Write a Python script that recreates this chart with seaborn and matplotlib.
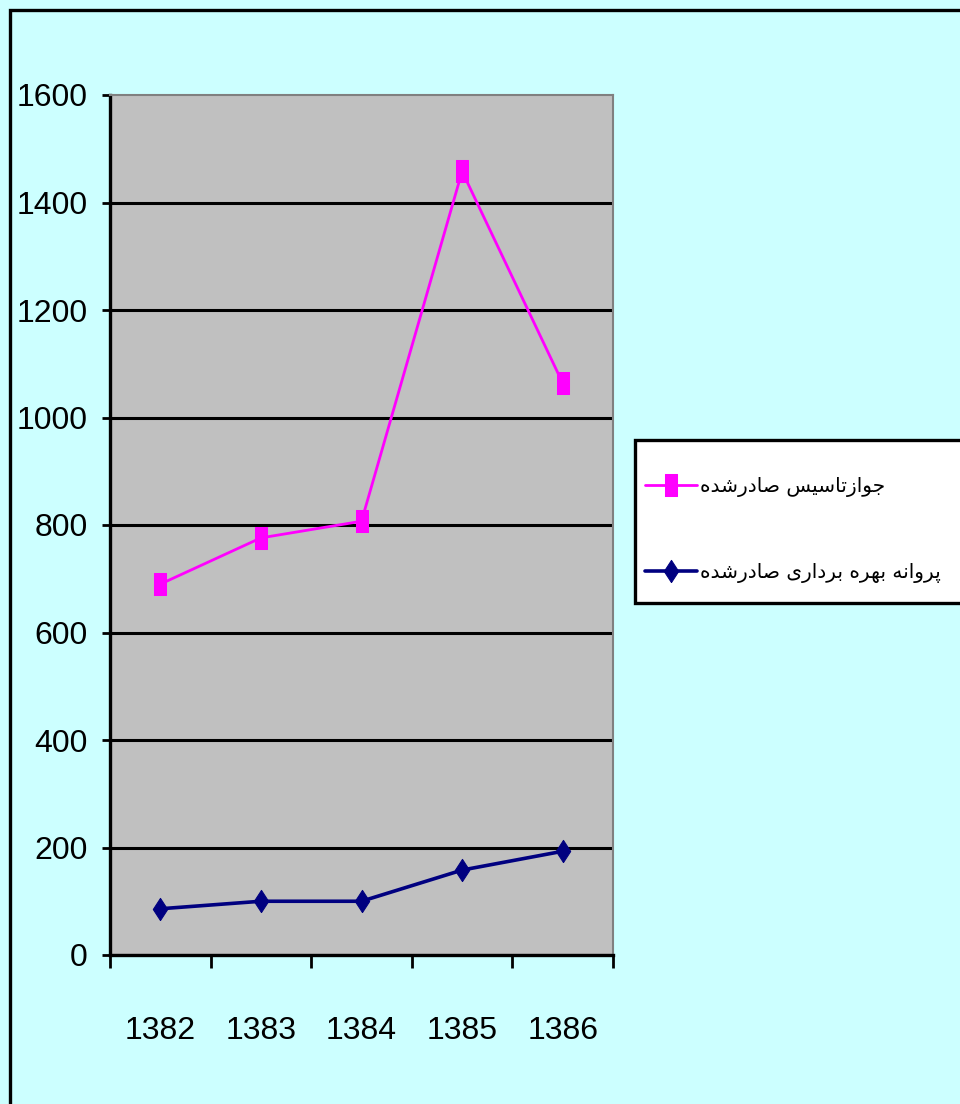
import numpy as np
import pandas as pd
import matplotlib
matplotlib.use('Agg')
import matplotlib.pyplot as plt
import matplotlib.patches as mpatches
import seaborn as sns

# ------------------------------------------------------------------
# Data
# ------------------------------------------------------------------
years = ['1382', '1383', '1384', '1385', '1386']
licenses_issued = [690, 776, 807, 1458, 1064]   # pink series
permits_issued = [86, 100, 100, 158, 193]       # navy series

label_licenses = 'جوازتاسیس صادرشده'
label_permits = 'پروانه بهره برداری صادرشده'

y_ticks = [0, 200, 400, 600, 800, 1000, 1200, 1400, 1600]

# ------------------------------------------------------------------
# Arabic shaping (matplotlib does not join letters on its own)
# ------------------------------------------------------------------
FORMS = {
    'ا': ('\uFE8D', '\uFE8E'),
    'د': ('\uFEA9', '\uFEAA'),
    'ر': ('\uFEAD', '\uFEAE'),
    'ز': ('\uFEAF', '\uFEB0'),
    'و': ('\uFEED', '\uFEEE'),
    'ب': ('\uFE8F', '\uFE90', '\uFE91', '\uFE92'),
    'پ': ('\uFB56', '\uFB57', '\uFB58', '\uFB59'),
    'ت': ('\uFE95', '\uFE96', '\uFE97', '\uFE98'),
    'ج': ('\uFE9D', '\uFE9E', '\uFE9F', '\uFEA0'),
    'س': ('\uFEB1', '\uFEB2', '\uFEB3', '\uFEB4'),
    'ش': ('\uFEB5', '\uFEB6', '\uFEB7', '\uFEB8'),
    'ص': ('\uFEB9', '\uFEBA', '\uFEBB', '\uFEBC'),
    'ن': ('\uFEE5', '\uFEE6', '\uFEE7', '\uFEE8'),
    'ه': ('\uFEE9', '\uFEEA', '\uFEEB', '\uFEEC'),
    'ی': ('\uFBFC', '\uFBFD', '\uFBFE', '\uFBFF'),
}


def shape(text):
    out = []
    for i, ch in enumerate(text):
        if ch not in FORMS:
            out.append(ch)
            continue
        f = FORMS[ch]
        prev = text[i - 1] if i > 0 else ''
        nxt = text[i + 1] if i + 1 < len(text) else ''
        join_prev = prev in FORMS and len(FORMS[prev]) == 4
        join_next = nxt in FORMS and len(f) == 4
        if join_prev and join_next:
            out.append(f[3])
        elif join_prev:
            out.append(f[1])
        elif join_next:
            out.append(f[2])
        else:
            out.append(f[0])
    return ''.join(out)[::-1]


df = pd.DataFrame({
    'year': years * 2,
    'pos': list(range(len(years))) * 2,
    'value': licenses_issued + permits_issued,
    'series': [label_licenses] * len(years) + [label_permits] * len(years),
})

# ------------------------------------------------------------------
# Plot
# ------------------------------------------------------------------
sns.set_style('white')
plt.rcParams['text.color'] = 'black'
plt.rcParams['xtick.color'] = 'black'
plt.rcParams['ytick.color'] = 'black'
num_font = ['Liberation Sans', 'DejaVu Sans']

fig = plt.figure(figsize=(9.6, 11.04), dpi=100, facecolor='#CCFFFF')
ax = fig.add_axes([110 / 960, 149 / 1104, 503 / 960, 860 / 1104])
ax.set_facecolor('#C0C0C0')

rect_marker = [(-0.55, -1), (0.55, -1), (0.55, 1), (-0.55, 1), (-0.55, -1)]
diamond_marker = [(0, -1), (0.65, 0), (0, 1), (-0.65, 0), (0, -1)]

sns.lineplot(data=df[df['series'] == label_licenses], x='pos', y='value',
             color='#FF00FF', linewidth=2, marker=rect_marker, markersize=16,
             markeredgecolor='#FF00FF', ax=ax, label=shape(label_licenses))
sns.lineplot(data=df[df['series'] == label_permits], x='pos', y='value',
             color='#000080', linewidth=2.6, marker=diamond_marker, markersize=16,
             markeredgecolor='#000080', ax=ax, label=shape(label_permits))

# Axes and ticks
ax.set_xlim(-0.5, len(years) - 0.5)
ax.set_ylim(0, 1600)
ax.set_yticks(y_ticks)
ax.set_yticklabels([str(v) for v in y_ticks], fontsize=23, family=num_font,
                   color='black')
ax.set_xticks(np.arange(len(years) + 1) - 0.5)
ax.set_xticklabels([])
ax.set_xticks(range(len(years)), minor=True)
ax.set_xticklabels(years, minor=True, fontsize=23, family=num_font, color='black')
ax.tick_params(axis='x', which='major', direction='out', length=9, width=2,
               color='black', bottom=True)
ax.tick_params(axis='x', which='minor', length=0, pad=44, bottom=True)
ax.tick_params(axis='y', direction='out', length=6, width=2, color='black',
               left=True, pad=10)
ax.set_xlabel('')
ax.set_ylabel('')

ax.grid(axis='y', color='black', linewidth=2.2)
ax.grid(axis='x', visible=False)
ax.set_axisbelow(True)
ax.get_ygridlines()[-1].set_visible(False)

for side in ['left', 'bottom']:
    ax.spines[side].set_color('black')
    ax.spines[side].set_linewidth(2.4)
for side in ['top', 'right']:
    ax.spines[side].set_color('#808080')
    ax.spines[side].set_linewidth(1.5)

# Legend
ax.get_legend().remove()
handles, labels = ax.get_legend_handles_labels()
fig.patches.append(mpatches.Rectangle((635 / 960, 1 - 603 / 1104), 0.4, 163 / 1104,
                                      transform=fig.transFigure, facecolor='white',
                                      edgecolor='black', linewidth=2.4))
fig.legend(handles, labels, loc='center left', bbox_to_anchor=(645 / 960, 1 - 530 / 1104),
           frameon=False, borderaxespad=0, borderpad=0, handlelength=2.6,
           handletextpad=0.15, labelspacing=3.3,
           prop={'family': 'DejaVu Sans', 'size': 14.5})

# Outer chart frame
fig.patches.append(mpatches.Rectangle((10 / 960, -0.1), 1.2, 1 - 10 / 1104 + 0.1,
                                      transform=fig.transFigure, fill=False,
                                      edgecolor='black', linewidth=2.4))

fig.savefig('out.png', dpi=100, facecolor=fig.get_facecolor())
